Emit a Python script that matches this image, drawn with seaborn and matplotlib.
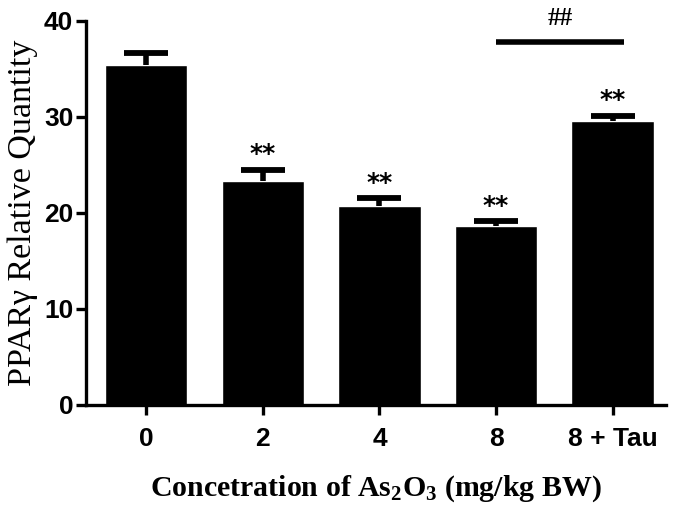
import numpy as np
import pandas as pd
import matplotlib
matplotlib.use("Agg")
import matplotlib.pyplot as plt
import seaborn as sns

# values
groups = ["0", "2", "4", "8", "8 + Tau"]
means = [35.4, 23.3, 20.7, 18.6, 29.6]
sem = [1.2, 1.2, 0.8, 0.5, 0.5]
stars = ["", "**", "**", "**", "**"]
bracket_text = "##"
bracket_groups = (3, 4.1)
bracket_y = 37.8

sns.set_style("ticks")
plt.rcParams["font.family"] = ["Liberation Sans Narrow", "Liberation Sans", "DejaVu Sans"]
plt.rcParams["mathtext.fontset"] = "custom"
plt.rcParams["mathtext.rm"] = "Liberation Serif:bold"
plt.rcParams["mathtext.bf"] = "Liberation Serif:bold"
for key in ["text.color", "axes.labelcolor", "xtick.color", "ytick.color",
            "axes.edgecolor"]:
    plt.rcParams[key] = "black"

df = pd.DataFrame({"group": groups, "mean": means, "sem": sem})

fig = plt.figure(figsize=(6.75, 5.08), dpi=100)
ax = fig.add_axes([0.127, 0.203, 0.860, 0.756])

sns.barplot(data=df, x="group", y="mean", color="black", width=0.706,
            errorbar=None, saturation=1, ax=ax)

# upper-only error bars: stem plus a cap at the top
xpos = np.arange(len(groups))
tops = df["mean"] + df["sem"]
ax.vlines(xpos, df["mean"], tops, color="black", lw=4, zorder=3)
ax.plot(xpos, tops, ls="none", marker="_", ms=31, mew=4.2, color="black",
        zorder=3)

for x, t_y, t in zip(xpos, tops, stars):
    if t:
        ax.text(x, t_y + 0.4, t, ha="center", va="bottom",
                fontsize=18, fontweight="bold", family="DejaVu Sans")

ax.plot(bracket_groups, [bracket_y, bracket_y], color="black", lw=4,
        solid_capstyle="butt", clip_on=False)
ax.text(np.mean(bracket_groups), bracket_y + 1.2, bracket_text, ha="center",
        va="bottom", fontsize=18, fontweight="bold", family="Liberation Serif",
        clip_on=False)

ax.set_xlim(-0.52, 4.46)
ax.set_ylim(0, 40)
ax.set_yticks([0, 10, 20, 30, 40])
sns.despine(ax=ax)
for sp in ["left", "bottom"]:
    ax.spines[sp].set_linewidth(2.4)
ax.tick_params(axis="both", width=2.4, length=7, labelsize=19)
for lab in ax.get_xticklabels() + ax.get_yticklabels():
    lab.set_fontweight("bold")
ax.tick_params(axis="x", pad=9)
ax.tick_params(axis="y", pad=2)

ax.set_ylabel("PPARγ Relative Quantity", fontsize=24.5,
              family=["Liberation Serif", "DejaVu Serif"], labelpad=4)
ax.set_xlabel(r"Concetration of As$\mathrm{_2}$O$\mathrm{_3}$ (mg/kg BW)",
              fontsize=21.5, fontweight="bold",
              family=["Liberation Serif", "DejaVu Serif"], labelpad=16)

fig.savefig("out.png", dpi=100)
